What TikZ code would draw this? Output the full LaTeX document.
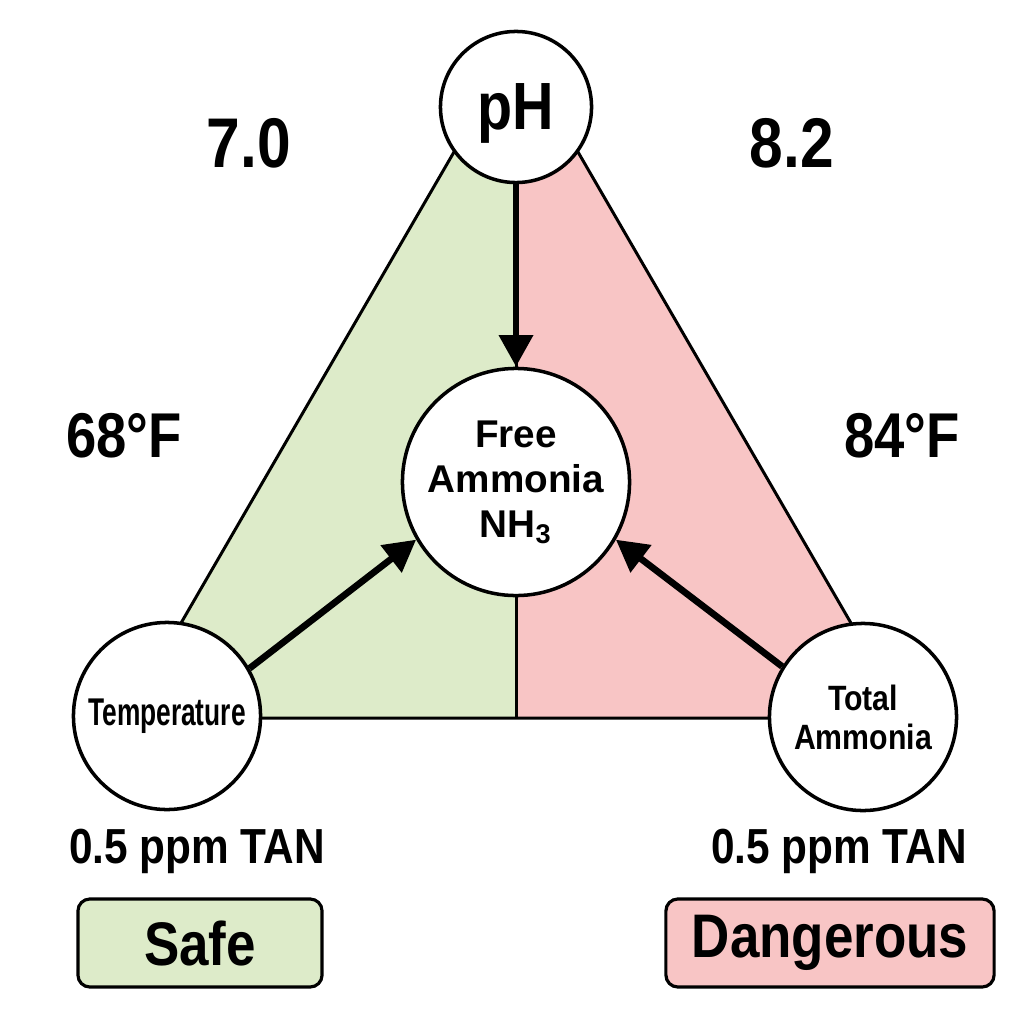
\documentclass[tikz,border=0pt]{standalone}
\usepackage{fontspec}
\setmainfont{Liberation Sans}
\newfontfamily\condfont{Liberation Sans}[FakeStretch=0.86]
\newfontfamily\narrowfont{Liberation Sans}[FakeStretch=0.68]
\usetikzlibrary{arrows.meta,positioning}
\definecolor{safegreen}{RGB}{221,235,201}
\definecolor{dangerpink}{RGB}{248,197,197}

\begin{document}
\begin{tikzpicture}[
  x=0.01cm, y=-0.01cm,
  every node/.style={inner sep=0pt, align=center},
  factor/.style={draw, circle, fill=white, line width=1pt},
  tag/.style={font=\condfont\bfseries\fontsize{20}{24}\selectfont},
  tan/.style={font=\condfont\bfseries\fontsize{14}{17}\selectfont, anchor=base},
  verdict/.style={draw, rounded corners=3.4pt, line width=0.9pt, minimum height=0.88cm,
    font=\condfont\bfseries\fontsize{17.5}{21}\selectfont},
  pull/.style={->, line width=1.9pt},
  >={Triangle[length=9pt, width=9.4pt]}
]
\useasboundingbox (0,0) rectangle (1024,1024);

% --- Triangle corners ---
\coordinate (apex) at (516,45);
\coordinate (bl)   at (126,718);
\coordinate (br)   at (906,718);
\coordinate (base) at (516,718);

% --- Safe and dangerous halves ---
\fill[safegreen]  (bl) -- (apex) -- (base) -- cycle;
\fill[dangerpink] (apex) -- (br) -- (base) -- cycle;
\draw[line width=0.85pt] (bl) -- (apex) -- (br) -- cycle;
\draw[line width=0.85pt] (apex) -- (base);

% --- Factors ---
\node[factor, minimum size=1.51cm, text depth=0pt,
  font=\condfont\bfseries\fontsize{19}{23}\selectfont] (ph) at (516,107) {pH};
\node[factor, minimum size=2.27cm,
  font=\bfseries\fontsize{11}{12.8}\selectfont] (free) at (516,482)
  {Free\\Ammonia\\NH\textsubscript{3}};
\node[factor, minimum size=1.87cm,
  font=\narrowfont\bfseries\fontsize{11}{13}\selectfont] (temp) at (167,716) {Temperature};
\node[factor, minimum size=1.87cm,
  font=\condfont\bfseries\fontsize{10}{11.1}\selectfont] (total) at (863,717)
  {Total\\Ammonia};

% --- Range labels ---
\node[tag] (phlow)   at (249,143) {7.0};
\node[tag] (phhigh)  at (792,143) {8.2};
\node[tag, font=\condfont\bfseries\fontsize{18}{22}\selectfont] (templow)  at (124,436) {68°F};
\node[tag, font=\condfont\bfseries\fontsize{18}{22}\selectfont] (temphigh) at (902,436) {84°F};

\node[tan] (tanlow)  at (197,863) {0.5 ppm TAN};
\node[tan] (tanhigh) at (839,863) {0.5 ppm TAN};

% --- Verdict boxes ---
\node[verdict, fill=safegreen,  minimum width=2.44cm] (safe)   at (200,943) {Safe};
\node[verdict, fill=dangerpink, minimum width=3.28cm] (danger) at (830,943) {Dangerous};

% --- Arrows into free ammonia ---
\draw[pull] (ph) -- (free);
\draw[pull] (temp.30) -- (free.210);
\draw[pull] (total.148) -- (free.-30);

\end{tikzpicture}
\end{document}
